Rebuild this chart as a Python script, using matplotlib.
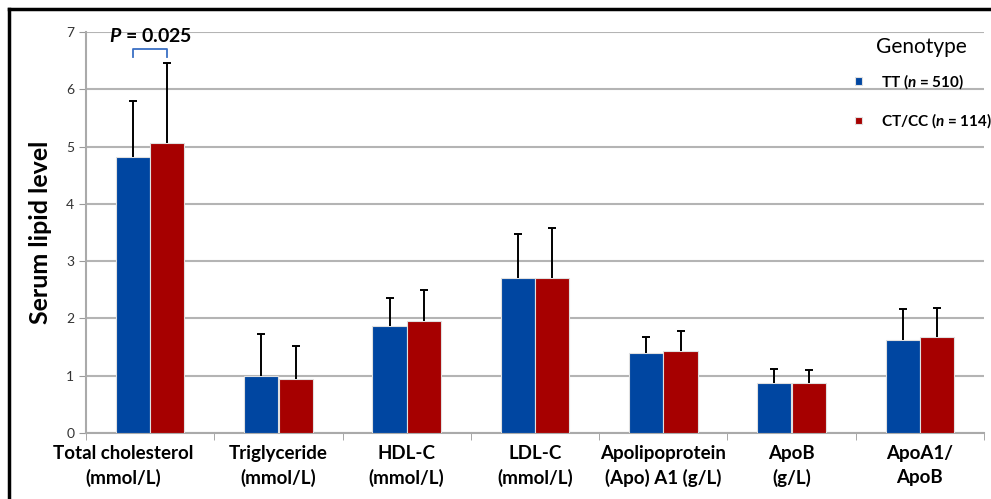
import matplotlib
matplotlib.use("Agg")
import matplotlib.pyplot as plt
from matplotlib.lines import Line2D
from matplotlib.transforms import ScaledTranslation
import numpy as np

plt.rcParams['font.family'] = ['Lato', 'DejaVu Sans']
plt.rcParams['mathtext.fontset'] = 'custom'
plt.rcParams['mathtext.it'] = 'Lato:italic:bold'
plt.rcParams['mathtext.rm'] = 'Lato:bold'

categories = ["Total cholesterol\n(mmol/L)", "Triglyceride\n(mmol/L)", "HDL-C\n(mmol/L)",
              "LDL-C\n(mmol/L)", "Apolipoprotein\n(Apo) A1 (g/L)", "ApoB\n(g/L)", "ApoA1/\nApoB"]
tt_mean = [4.82, 1.00, 1.87, 2.71, 1.40, 0.88, 1.63]
tt_sd = [0.98, 0.73, 0.49, 0.76, 0.27, 0.24, 0.54]
ct_mean = [5.07, 0.95, 1.95, 2.70, 1.43, 0.87, 1.67]
ct_sd = [1.38, 0.56, 0.55, 0.88, 0.35, 0.23, 0.51]
tt_label = "TT ($\\it{n}$ = 510)"
ct_label = "CT/CC ($\\it{n}$ = 114)"

blue = "#0046A1"
red = "#A60000"

fig = plt.figure(figsize=(9.91, 4.99), dpi=100)
ax = fig.add_axes([0.0868, 0.1323, 0.9062, 0.8036])

x = np.arange(len(categories))
w = 0.266
off = 0.134

ax.bar(x - off, tt_mean, w, color=blue, edgecolor="#e0e0e0", linewidth=0.8, zorder=3, label=tt_label)
ax.bar(x + off, ct_mean, w, color=red, edgecolor="#e0e0e0", linewidth=0.8, zorder=3, label=ct_label)
for xs, m, sd in [(x - off, tt_mean, tt_sd), (x + off, ct_mean, ct_sd)]:
    eb = ax.errorbar(xs, m, yerr=[np.zeros(len(sd)), sd], fmt="none", ecolor="black",
                     elinewidth=1.4, capsize=3, capthick=1.4, zorder=4)
    eb[1][0].set_visible(False)  # hide the lower cap

ax.set_xlim(-0.5, len(categories) - 0.5)
ax.set_ylim(0, 7)
ax.set_yticks(range(0, 8))
ax.yaxis.grid(True, color="#b4b4b4", linewidth=1.5, zorder=0)
ax.set_axisbelow(True)

ax.set_xticks(x)
ax.set_xticklabels(categories, fontsize=13.5, fontweight="bold", linespacing=1.45)
ax.tick_params(axis="x", length=0, pad=9)
ax.set_xticks(np.arange(-0.5, len(categories)), minor=True)
ax.tick_params(axis="x", which="minor", length=5, color="#999999", direction="out")
ax.tick_params(axis="y", labelsize=10, labelcolor="#333333", length=5, color="#999999")

# first label sits a bit to the left in the original
lab0 = ax.get_xticklabels()[0]
lab0.set_transform(lab0.get_transform() + ScaledTranslation(-0.27, 0, fig.dpi_scale_trans))

for s in ["top", "right"]:
    ax.spines[s].set_visible(False)
for s in ["left", "bottom"]:
    ax.spines[s].set_color("#aaaaaa")
    ax.spines[s].set_linewidth(1.5)

ax.set_ylabel("Serum lipid level", fontsize=18, fontweight="bold", labelpad=10)

# significance bracket
bx0 = x[0] - off
bx1 = x[0] + off
ax.plot([bx0, bx0, bx1, bx1], [6.56, 6.70, 6.70, 6.56], color="#3a6fc4", linewidth=1.3, clip_on=False, zorder=5)
ax.text(x[0], 6.93, "$\\it{P}$ = 0.025", ha="center", va="center", fontsize=14, fontweight="bold", clip_on=False)

ax.text(0.880, 0.963, "Genotype", transform=ax.transAxes, ha="left", va="center", fontsize=15)
leg = ax.legend(loc="upper left", bbox_to_anchor=(0.850, 0.915), frameon=False,
                fontsize=11, handlelength=0.4, handleheight=0.4,
                handletextpad=1.3, labelspacing=1.35, borderaxespad=0.0)
for t in leg.get_texts():
    t.set_fontweight("bold")

# frame lines on left and top of the figure
fig.add_artist(Line2D([0.009, 0.009], [0, 0.982], color="black", linewidth=2.5, transform=fig.transFigure))
fig.add_artist(Line2D([0.009, 1.0], [0.982, 0.982], color="black", linewidth=2.5, transform=fig.transFigure))

fig.savefig("out.png", dpi=100)
